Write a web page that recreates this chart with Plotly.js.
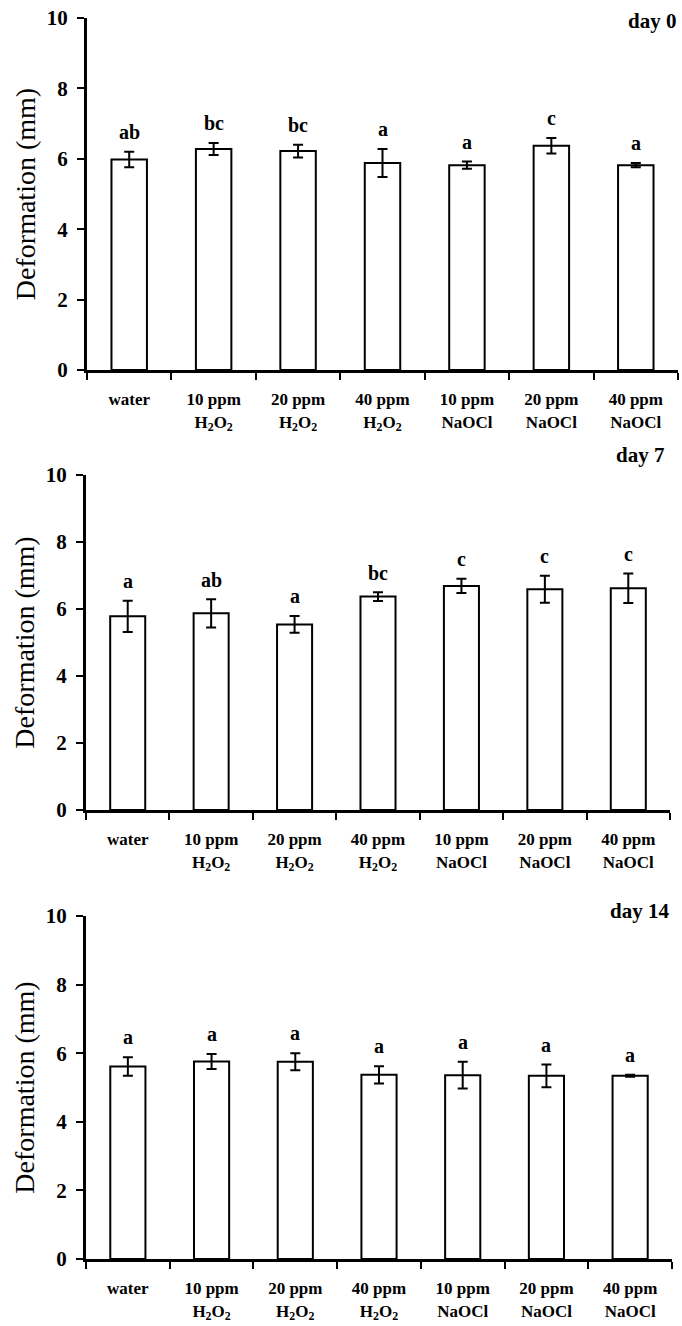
<!DOCTYPE html>
<html>
<head>
<meta charset="utf-8">
<script src="https://cdn.plot.ly/plotly-3.0.1.min.js"></script>
<style>
  html, body { margin: 0; padding: 0; background: #fff; }
  #chart { width: 682px; height: 1326px; }
</style>
</head>
<body>
<div id="chart"></div>
<script>
// ---------------- data ----------------
const categories = ["water", "10 ppm H2O2", "20 ppm H2O2", "40 ppm H2O2", "10 ppm NaOCl", "20 ppm NaOCl", "40 ppm NaOCl"];
const tickLabels = ["water", "10 ppm<br>H<sub>2</sub>O<sub>2</sub>", "20 ppm<br>H<sub>2</sub>O<sub>2</sub>", "40 ppm<br>H<sub>2</sub>O<sub>2</sub>",
                    "10 ppm<br>NaOCl", "20 ppm<br>NaOCl", "40 ppm<br>NaOCl"];
const yTickVals = [0, 2, 4, 6, 8, 10];
const panelTitles = ["day 0", "day 7", "day 14"];

const day0Mean = [5.98, 6.28, 6.22, 5.88, 5.82, 6.37, 5.82];
const day0Err  = [0.22, 0.17, 0.18, 0.40, 0.10, 0.22, 0.06];
const day0Letters = ["ab", "bc", "bc", "a", "a", "c", "a"];

const day7Mean = [5.78, 5.87, 5.54, 6.37, 6.69, 6.59, 6.62];
const day7Err  = [0.47, 0.42, 0.25, 0.13, 0.21, 0.40, 0.44];
const day7Letters = ["a", "ab", "a", "bc", "c", "c", "c"];

const day14Mean = [5.61, 5.76, 5.75, 5.37, 5.36, 5.34, 5.34];
const day14Err  = [0.27, 0.22, 0.25, 0.25, 0.39, 0.33, 0.03];
const day14Letters = ["a", "a", "a", "a", "a", "a", "a"];

// ---------------- layout helpers ----------------
const W = 682, H = 1326;
const FONT = "Liberation Serif, Times New Roman, serif";
const fy = px => 1 - px / H;
const fx = px => px / W;

// pixel geometry of each panel: [left, right, top(10), bottom(0)]
const panels = [
  { mean: day0Mean, err: day0Err, letters: day0Letters, title: panelTitles[0], box: [87, 678, 18, 370], titlePos: [678, 21] },
  { mean: day7Mean, err: day7Err, letters: day7Letters, title: panelTitles[1], box: [86, 670, 475, 810], titlePos: [666, 455] },
  { mean: day14Mean, err: day14Err, letters: day14Letters, title: panelTitles[2], box: [86, 672, 916, 1259], titlePos: [671, 911] }
];

const traces = [];
const annotations = [];
const layout = {
  width: W, height: H,
  margin: { l: 0, r: 0, t: 0, b: 0 },
  paper_bgcolor: "#fff", plot_bgcolor: "#fff",
  showlegend: false,
  bargap: 0.58,
  font: { family: FONT, color: "#000" },
  annotations: annotations
};

panels.forEach((p, i) => {
  const xa = i === 0 ? "x" : "x" + (i + 1);
  const ya = i === 0 ? "y" : "y" + (i + 1);
  traces.push({
    type: "bar",
    x: categories, y: p.mean,
    xaxis: xa, yaxis: ya,
    marker: { color: "#fff", line: { color: "#000", width: 2 } },
    error_y: { type: "data", array: p.err, visible: true, color: "#000", thickness: 2, width: 5 },
    hoverinfo: "none"
  });
  const [l, r, t, b] = p.box;
  layout["xaxis" + (i === 0 ? "" : i + 1)] = {
    domain: [fx(l), fx(r)],
    anchor: ya,
    type: "category",
    tickvals: categories, ticktext: tickLabels,
    tickson: "boundaries",
    ticks: "outside", ticklen: 7, tickwidth: 2, tickcolor: "#000",
    showline: true, linecolor: "#000", linewidth: 3,
    showgrid: false, zeroline: false,
    tickangle: 0,
    ticklabelstandoff: 12,
    tickfont: { family: FONT, size: 17, color: "#000", weight: "bold" },
    fixedrange: true
  };
  layout["yaxis" + (i === 0 ? "" : i + 1)] = {
    domain: [fy(b), fy(t)],
    anchor: xa,
    range: [0, 10],
    tickvals: yTickVals,
    ticks: "outside", ticklen: 7, tickwidth: 2, tickcolor: "#000",
    showline: true, linecolor: "#000", linewidth: 3,
    showgrid: false, zeroline: false,
    tickfont: { family: FONT, size: 21, color: "#000", weight: "bold" },
    ticklabelstandoff: 5,
    title: { text: "Deformation (mm)", font: { family: FONT, size: 28, color: "#000" }, standoff: 3 },
    fixedrange: true
  };
  p.letters.forEach((txt, k) => {
    annotations.push({
      xref: xa, yref: ya, x: categories[k], y: p.mean[k] + p.err[k] + 0.2,
      text: txt, showarrow: false, yanchor: "bottom", xanchor: "center",
      font: { family: FONT, size: 20, color: "#000", weight: "bold" }
    });
  });
  annotations.push({
    xref: "paper", yref: "paper", x: fx(p.titlePos[0]), y: fy(p.titlePos[1]),
    text: p.title, showarrow: false, xanchor: "right", yanchor: "middle",
    font: { family: FONT, size: 21, color: "#000", weight: "bold" }
  });
});

Plotly.newPlot("chart", traces, layout, { displayModeBar: false, staticPlot: true });
</script>
</body>
</html>
